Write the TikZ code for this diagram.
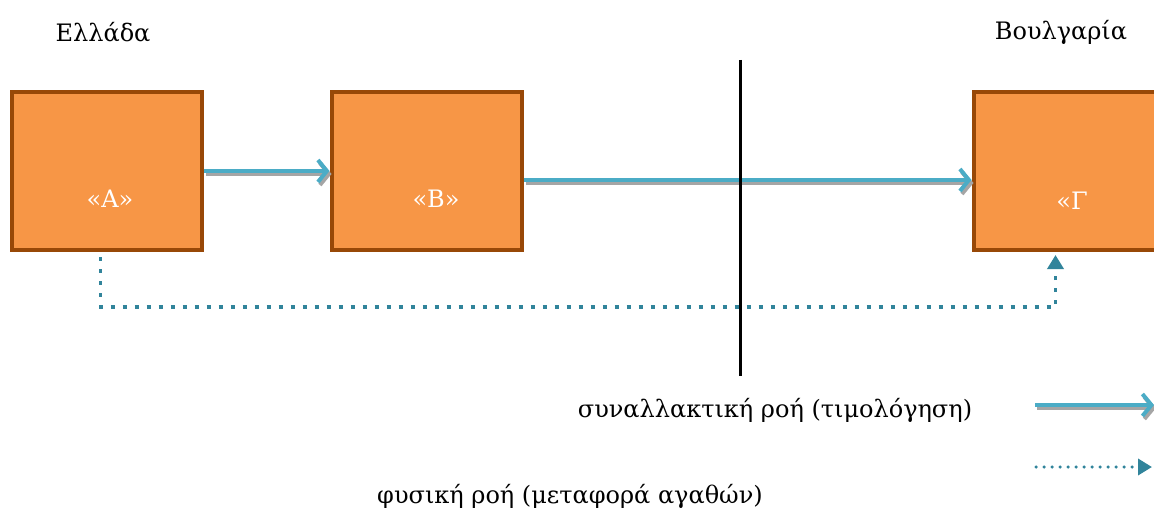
\documentclass[tikz,border=0pt]{standalone}
\usepackage{fontspec}
\setmainfont{DejaVu Serif}
\usetikzlibrary{arrows.meta,calc}
\definecolor{boxfill}{HTML}{F79646}
\definecolor{boxline}{HTML}{984807}
\definecolor{flowblue}{HTML}{4BACC6}
\definecolor{flowteal}{HTML}{31849B}
\definecolor{shadowgray}{HTML}{A5A5A5}
\tikzset{
  entity/.style={draw=boxline, fill=boxfill, line width=4pt, minimum width=190pt, minimum height=158pt, inner sep=0pt},
  entlabel/.style={text=white, font=\fontsize{24}{28}\selectfont},
  title/.style={font=\fontsize{24}{28}\selectfont, text=black},
  legend/.style={font=\fontsize{24}{28}\selectfont, text=black},
  txflow/.style={draw=flowblue, line width=4pt, -{Straight Barb[length=9pt,width=22pt,line width=4pt]}},
  txshadow/.style={draw=shadowgray, line width=4pt, -{Straight Barb[length=9pt,width=22pt,line width=4pt]}},
  physflow/.style={draw=flowteal, line width=3.5pt, dash pattern=on 4pt off 8pt, -{Triangle[length=14pt,width=16pt]}},
  physlegend/.style={draw=flowteal, line width=3.5pt, line cap=round, dash pattern=on 0pt off 8pt, -{Triangle[length=14pt,width=16pt]}},
  border/.style={draw=black, line width=3pt}
}
\begin{document}
\begin{tikzpicture}[x=1pt,y=-1pt]
\useasboundingbox (0,0) rectangle (1154,511);
% titles
\node[title] (gr) at (103,32) {Ελλάδα};
\node[title] (bg) at (1061,32) {Βουλγαρία};
% boxes
\node[entity] (A) at (106.5,171) {};
\node[entity] (B) at (426.5,171) {};
\node[entity] (G) at (1068.5,171) {};
\node[entlabel] (la) at (110,199) {«Α»};
\node[entlabel] (lb) at (436,199) {«Β»};
\node[entlabel] (lg) at (1072,201) {«Γ};
% border line
\coordinate (vt) at (740,60);
\coordinate (vb) at (740,376);
% transaction flows
\draw[txshadow] ([shift={(2pt,-3pt)}]A.east) -- ([shift={(2pt,-3pt)}]B.west);
\draw[txflow] (A.east) -- (B.west);
\draw[txshadow] ([shift={(2pt,-12pt)}]B.east) -- ([shift={(2pt,-12pt)}]G.west);
\draw[txflow] ([yshift=-9pt]B.east) -- ([yshift=-9pt]G.west);
\draw[border] (vt) -- (vb);
% physical flow
\draw[physflow] ([xshift=-6pt,yshift=-5pt]A.south) -- ++(0,-50pt) -| ([xshift=-13pt,yshift=-3pt]G.south);
% legend
\node[legend] (l1) at (775,410) {συναλλακτική ροή (τιμολόγηση)};
\node[legend] (l2) at (570,496) {φυσική ροή (μεταφορά αγαθών)};
\coordinate (a1s) at (1035,405);
\coordinate (a1e) at (1154,405);
\coordinate (a2s) at (1036,467);
\coordinate (a2e) at (1152,467);
\draw[txshadow] ($(a1s)+(2,3)$) -- ($(a1e)+(2,3)$);
\draw[txflow] (a1s) -- (a1e);
\draw[physlegend] (a2s) -- (a2e);
\end{tikzpicture}
\end{document}
